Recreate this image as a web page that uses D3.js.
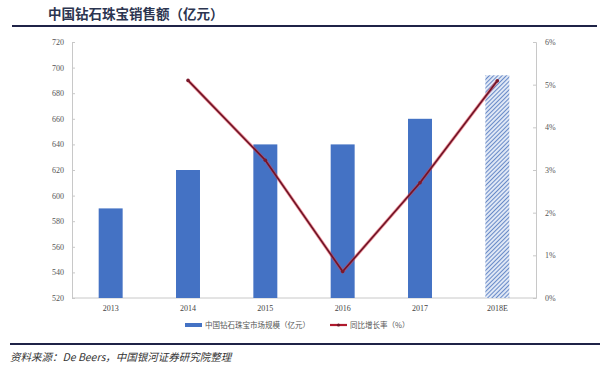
<!DOCTYPE html>
<html>
<head>
<meta charset="utf-8">
<script src="https://cdn.jsdelivr.net/npm/d3@7/dist/d3.min.js"></script>
<style>
  body { margin: 0; background: #fff; }
  svg { display: block; }
</style>
</head>
<body>
<div id="chart"></div>
<script>
// Data
var years = ['2013', '2014', '2015', '2016', '2017', '2018E'];
var sales = [590, 620, 640, 640, 660, 694];
var growth = [null, 5.1, 3.23, 0.62, 2.7, 5.09];
var leftTicks = [520, 540, 560, 580, 600, 620, 640, 660, 680, 700, 720];
var rightTicks = [0, 1, 2, 3, 4, 5, 6];

var width = 600, height = 369;
var margin = {left: 72, right: 64, top: 42, bottom: 71};
var serif = '"Liberation Serif", "DejaVu Serif", serif';
var cjk = '"Noto Sans CJK SC", sans-serif';

var svg = d3.select('#chart').append('svg')
    .attr('width', width)
    .attr('height', height);

// hatch pattern for the estimate bar
var defs = svg.append('defs');
var pat = defs.append('pattern')
    .attr('id', 'hatch')
    .attr('patternUnits', 'userSpaceOnUse')
    .attr('width', 3)
    .attr('height', 3)
    .attr('patternTransform', 'rotate(45)');
pat.append('rect').attr('width', 3).attr('height', 3).attr('fill', '#dfe7f5');
pat.append('line')
    .attr('x1', 0).attr('y1', 0).attr('x2', 0).attr('y2', 3)
    .attr('stroke', '#4a72bd').attr('stroke-width', 1.6);

// title and rules
svg.append('text')
    .attr('x', 48).attr('y', 19)
    .style('font-family', cjk)
    .style('font-size', '13.5px')
    .style('font-weight', 'bold')
    .style('fill', '#2c3550')
    .text('中国钻石珠宝销售额（亿元）');

svg.append('line')
    .attr('x1', 12).attr('x2', 597).attr('y1', 26).attr('y2', 26)
    .attr('stroke', '#1f2347').attr('stroke-width', 2);

svg.append('line')
    .attr('x1', 10).attr('x2', 600).attr('y1', 344).attr('y2', 344)
    .attr('stroke', '#1f2347').attr('stroke-width', 2);

svg.append('text')
    .attr('x', 10).attr('y', 361)
    .style('font-family', cjk)
    .style('font-size', '10.5px')
    .style('font-style', 'italic')
    .style('fill', '#333')
    .text('资料来源：De Beers，中国银河证券研究院整理');

var plotRight = width - margin.right;
var plotBottom = height - margin.bottom;

var x = d3.scaleBand()
    .domain(years)
    .range([margin.left, plotRight])
    .paddingInner(0.69)
    .paddingOuter(0.345);

var y = d3.scaleLinear()
    .domain([520, 720])
    .range([plotBottom, margin.top]);

var y2 = d3.scaleLinear()
    .domain([0, 6])
    .range([plotBottom, margin.top]);

// axes
var leftAxis = svg.append('g')
    .attr('transform', 'translate(' + margin.left + ',0)')
    .call(d3.axisLeft(y).tickValues(leftTicks).tickSize(-3).tickPadding(8));

var rightAxis = svg.append('g')
    .attr('transform', 'translate(' + plotRight + ',0)')
    .call(d3.axisRight(y2).tickValues(rightTicks).tickSize(-3).tickPadding(9)
        .tickFormat(function(d) { return d + '%'; }));

var bottomAxis = svg.append('g')
    .attr('transform', 'translate(0,' + plotBottom + ')')
    .call(d3.axisBottom(x).tickSize(0).tickPadding(7));

[leftAxis, rightAxis, bottomAxis].forEach(function(g) {
    g.select('.domain').attr('stroke', '#c8c8c8');
    g.selectAll('.tick line').attr('stroke', '#c8c8c8');
    g.selectAll('text')
        .style('font-family', serif)
        .style('font-size', '8px')
        .style('fill', '#555');
});
bottomAxis.select('.domain').attr('d', 'M' + margin.left + ',0H' + plotRight);
bottomAxis.selectAll('text').style('fill', '#444');

// bars
svg.append('g').selectAll('rect')
    .data(sales)
    .enter()
    .append('rect')
    .attr('x', function(d, i) { return x(years[i]); })
    .attr('width', x.bandwidth())
    .attr('y', function(d) { return y(d); })
    .attr('height', function(d) { return plotBottom - y(d); })
    .attr('fill', function(d, i) { return years[i] == '2018E' ? 'url(#hatch)' : '#4472c4'; });

// growth line
var pts = growth.map(function(d, i) { return {year: years[i], value: d}; })
    .filter(function(d) { return d.value !== null; });

var line = d3.line()
    .x(function(d) { return x(d.year) + x.bandwidth() / 2; })
    .y(function(d) { return y2(d.value); });

svg.append('path')
    .datum(pts)
    .attr('d', line)
    .attr('fill', 'none')
    .attr('stroke', '#e23a4a')
    .attr('stroke-width', 3.2)
    .attr('stroke-opacity', 0.55);

svg.append('path')
    .datum(pts)
    .attr('d', line)
    .attr('fill', 'none')
    .attr('stroke', '#6e1426')
    .attr('stroke-width', 1.6);

svg.append('g').selectAll('circle')
    .data(pts)
    .enter()
    .append('circle')
    .attr('cx', function(d) { return x(d.year) + x.bandwidth() / 2; })
    .attr('cy', function(d) { return y2(d.value); })
    .attr('r', 1.8)
    .attr('fill', '#7a1a2c');

// legend
var legend = svg.append('g').attr('transform', 'translate(0,325)');
legend.append('rect')
    .attr('x', 185).attr('y', -2).attr('width', 17).attr('height', 4)
    .attr('fill', '#4472c4');
legend.append('text')
    .attr('x', 205).attr('y', 3)
    .style('font-family', cjk)
    .style('font-size', '7.5px')
    .style('fill', '#555')
    .text('中国钻石珠宝市场规模（亿元）');
legend.append('line')
    .attr('x1', 330).attr('x2', 347).attr('y1', 0).attr('y2', 0)
    .attr('stroke', '#b01a2e').attr('stroke-width', 2.2);
legend.append('circle')
    .attr('cx', 338.5).attr('cy', 0).attr('r', 1.6)
    .attr('fill', '#6e1426');
legend.append('text')
    .attr('x', 350).attr('y', 3)
    .style('font-family', cjk)
    .style('font-size', '7.5px')
    .style('fill', '#555')
    .text('同比增长率（%）');
</script>
</body>
</html>
